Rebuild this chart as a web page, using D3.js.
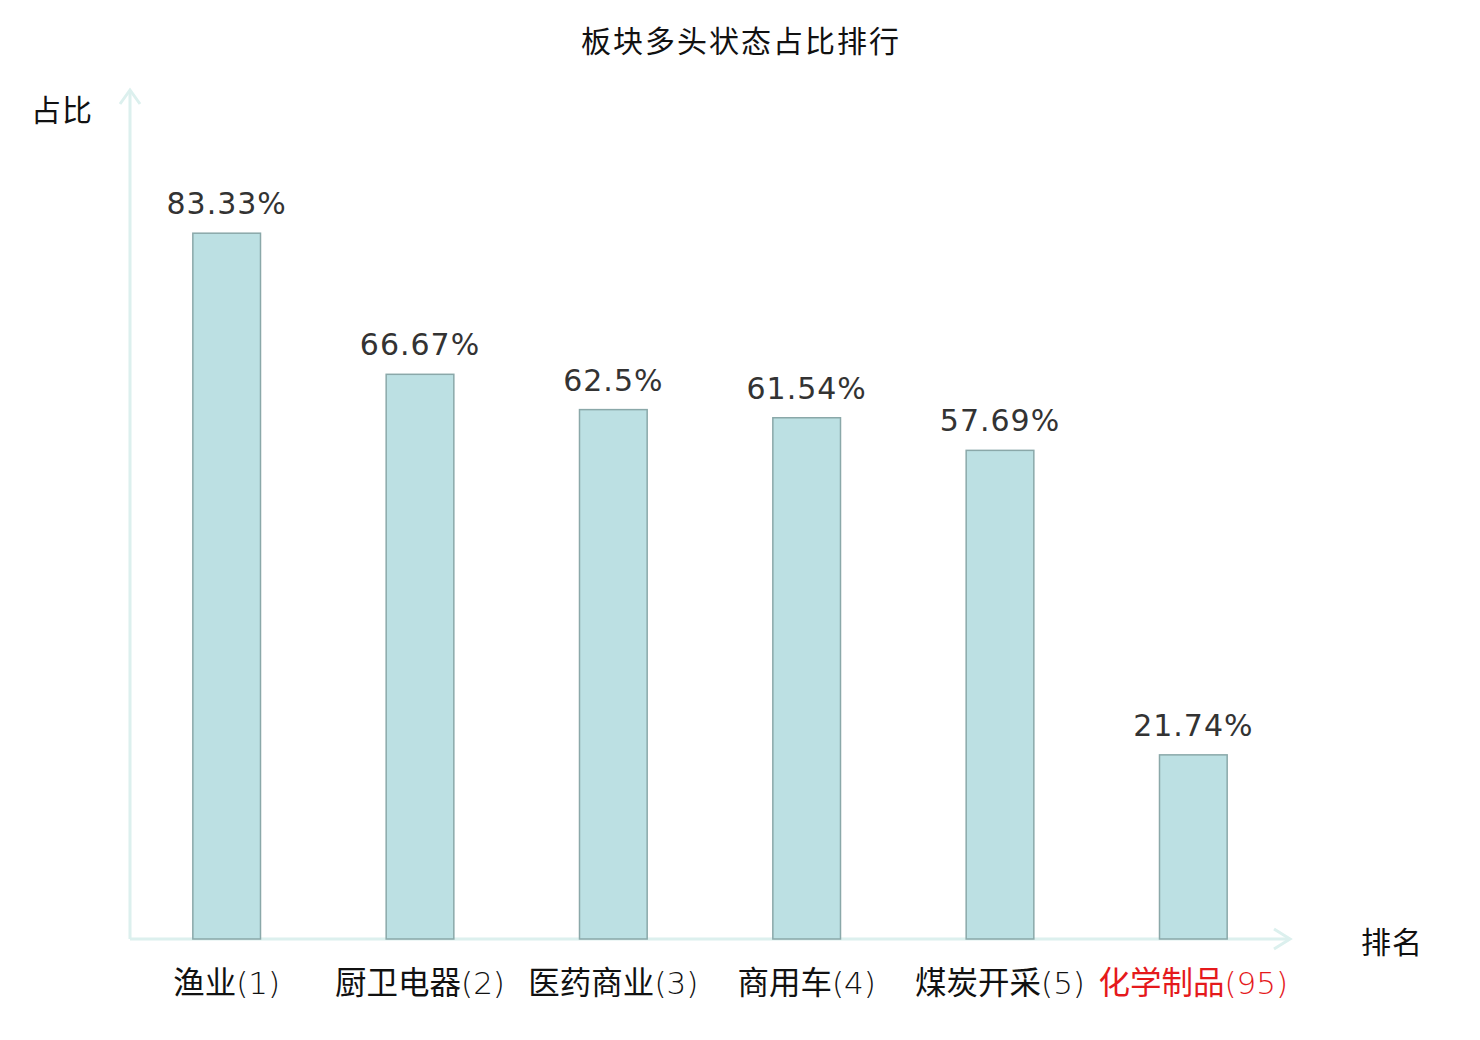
<!DOCTYPE html>
<meta charset="utf-8">
<script src="https://cdn.jsdelivr.net/npm/d3@7"></script>
<style>
  body { margin: 0; background: #fff; }
  text { font-family: "Noto Sans CJK SC", "DejaVu Sans", sans-serif; }
</style>
<body>
<div id="chart"></div>
<script>
  var names = ["渔业", "厨卫电器", "医药商业", "商用车", "煤炭开采", "化学制品"];
  var ranks = [1, 2, 3, 4, 5, 95];
  var ratios = [83.33, 66.67, 62.5, 61.54, 57.69, 21.74];

  var W = 1480, H = 1040;
  var margin = {top: 92, right: 190, bottom: 101, left: 130};

  var svg = d3.select("#chart").append("svg")
      .attr("width", W).attr("height", H);

  var x = d3.scaleBand()
      .domain(d3.range(names.length))
      .range([margin.left, W - margin.right])
      .paddingInner(0.65).paddingOuter(0.325);

  var y = d3.scaleLinear()
      .domain([0, 100])
      .range([H - margin.bottom, margin.top]);

  var axisCol = "#dcf0ee";
  var y0 = y(0), xEnd = W - margin.right;

  // axes with open arrow heads
  svg.append("path")
      .attr("d", "M" + margin.left + "," + y0 + "V" + (margin.top - 2))
      .attr("stroke", axisCol).attr("stroke-width", 3).attr("fill", "none");
  svg.append("path")
      .attr("d", "M" + (margin.left - 10) + "," + (margin.top + 12) + "L" + margin.left + "," + (margin.top - 2) + "L" + (margin.left + 10) + "," + (margin.top + 12))
      .attr("stroke", axisCol).attr("stroke-width", 3).attr("fill", "none");
  svg.append("path")
      .attr("d", "M" + margin.left + "," + y0 + "H" + xEnd)
      .attr("stroke", axisCol).attr("stroke-width", 3).attr("fill", "none");
  svg.append("path")
      .attr("d", "M" + (xEnd - 16) + "," + (y0 - 10) + "L" + xEnd + "," + y0 + "L" + (xEnd - 16) + "," + (y0 + 10))
      .attr("stroke", axisCol).attr("stroke-width", 3).attr("fill", "none");

  // bars
  svg.selectAll("rect.bar").data(ratios).enter().append("rect")
      .attr("class", "bar")
      .attr("x", function(d, i) { return x(i); })
      .attr("y", function(d) { return y(d); })
      .attr("width", x.bandwidth())
      .attr("height", function(d) { return y0 - y(d); })
      .attr("fill", "#bce0e3")
      .attr("stroke", "#8aa8a9")
      .attr("stroke-width", 1.5);

  // value labels
  svg.selectAll("text.val").data(ratios).enter().append("text")
      .attr("class", "val")
      .attr("x", function(d, i) { return x(i) + x.bandwidth() / 2; })
      .attr("y", function(d) { return y(d) - 19; })
      .attr("text-anchor", "middle")
      .style("font-family", "'DejaVu Sans', sans-serif")
      .style("font-size", "30px")
      .style("letter-spacing", "1px")
      .attr("fill", "#333")
      .text(function(d) { return d + "%"; });

  // category labels
  var cat = svg.selectAll("text.cat").data(names).enter().append("text")
      .attr("class", "cat")
      .attr("x", function(d, i) { return x(i) + x.bandwidth() / 2; })
      .attr("y", y0 + 55)
      .attr("text-anchor", "middle")
      .style("font-size", "31.5px")
      .attr("fill", function(d, i) { return i == names.length - 1 ? "#e5191c" : "#111"; });
  cat.append("tspan").text(function(d) { return d; });
  cat.append("tspan")
      .style("font-family", "'DejaVu Sans', sans-serif")
      .style("font-weight", 200)
      .style("font-size", "31px")
      .text(function(d, i) { return "(" + ranks[i] + ")"; });

  // title and axis names
  svg.append("text")
      .attr("x", W / 2 + 1).attr("y", 52)
      .attr("text-anchor", "middle")
      .style("font-size", "30px")
      .style("letter-spacing", "2px")
      .attr("fill", "#111")
      .text("板块多头状态占比排行");

  svg.append("text")
      .attr("x", 93).attr("y", 121)
      .attr("text-anchor", "end")
      .style("font-size", "30px")
      .style("letter-spacing", "1px")
      .attr("fill", "#111")
      .text("占比");

  svg.append("text")
      .attr("x", 1361).attr("y", 953)
      .style("font-size", "30px")
      .style("letter-spacing", "1px")
      .attr("fill", "#111")
      .text("排名");
</script>
</body>
